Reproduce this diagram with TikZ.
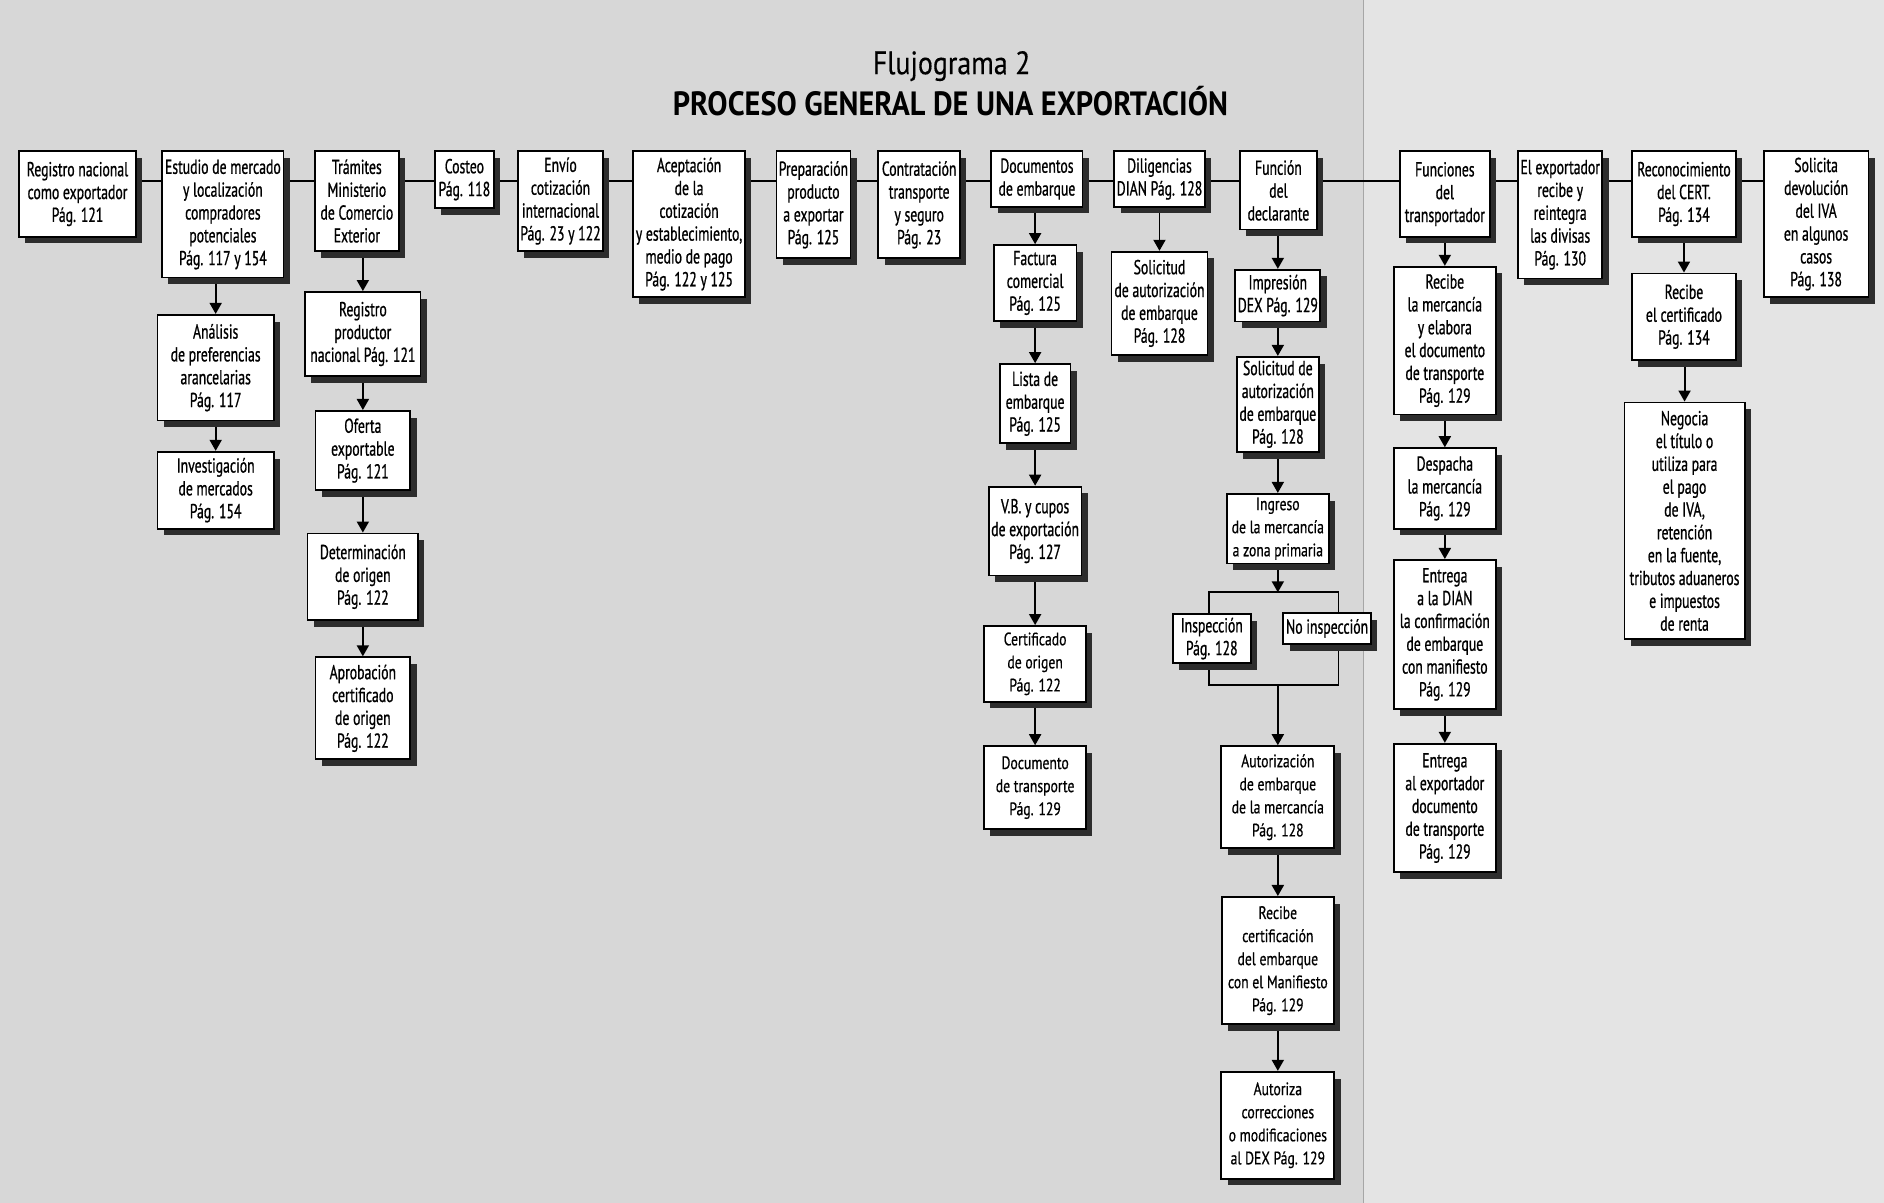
\documentclass[tikz,border=0pt]{standalone}
\usepackage{fontspec}
\setmainfont{PT Sans}[FakeStretch=0.68, FakeBold=0.8]
\newfontfamily\widefont{PT Sans}[FakeStretch=0.76, FakeBold=0.6]
\newfontfamily\titlefont{PT Sans}[FakeStretch=0.86, FakeBold=0.3]
\newfontfamily\titleboldfont{PT Sans Bold}[FakeStretch=0.9]
\usetikzlibrary{arrows.meta,shadows,calc}
\pgfdeclarelayer{paper}
\pgfdeclarelayer{lines}
\pgfsetlayers{paper,lines,main}
\definecolor{paperL}{RGB}{215,215,215}
\definecolor{paperR}{RGB}{228,228,228}
\definecolor{shade}{RGB}{45,45,45}
\tikzset{
  box/.style={draw=black, line width=0.75pt, fill=white, align=center,
    inner sep=1pt, font=\fontsize{8.4}{9.5}\selectfont,
    drop shadow={shadow xshift=2.6pt, shadow yshift=-2.8pt, fill=shade, opacity=1}},
  wbox/.style={box, font=\widefont\fontsize{7.5}{9.6}\selectfont},
  sz/.style 2 args={minimum width=#1*0.5pt, minimum height=#2*0.5pt},
  conn/.style={line width=0.8pt, draw=black},
  arr/.style={conn, -{Triangle[width=5pt,length=4.6pt]}}
}
\begin{document}
\begin{tikzpicture}[x=0.5pt, y=-0.5pt]
\useasboundingbox (0,0) rectangle (1568,1001);
\begin{pgfonlayer}{paper}
  \fill[paperL] (0,0) rectangle (1135,1001);
  \fill[paperR] (1135,0) rectangle (1568,1001);
  \draw[black!35, line width=0.6pt] (1135,0) -- (1135,1001);
\end{pgfonlayer}

% title
\node[font=\titlefont\fontsize{13.5}{15}\selectfont] (t1) at (792,55) {Flujograma 2};
\node[font=\titleboldfont\fontsize{14}{16}\selectfont] (t2) at (791,84) {PROCESO GENERAL DE UNA EXPORTACIÓN};

% main row
\coordinate (mainy) at (0,151);
\node[box, sz={97}{71}]  (b1)  at (64.5,161.5)  {Registro nacional\\como exportador\\Pág. 121};
\node[box, sz={101}{105}] (b2) at (185.5,178.5) {Estudio de mercado\\y localización\\compradores\\potenciales\\Pág. 117 y 154};
\node[box, sz={70}{83}]  (b3)  at (297,167.3) {Trámites\\Ministerio\\de Comercio\\Exterior};
\node[box, sz={49}{47}]  (b4)  at (386.5,149.5) {Costeo\\Pág. 118};
\node[box, sz={69}{83}]  (b5)  at (466.5,167.3) {Envío\\cotización\\internacional\\Pág. 23 y 122};
\node[box, sz={93}{121}] (b6)  at (573.5,186.5) {Aceptación\\de la\\cotización\\y establecimiento,\\medio de pago\\Pág. 122 y 125};
\node[box, sz={58}{89}]  (b7)  at (677,170.5)   {Preparación\\producto\\a exportar\\Pág. 125};
\node[box, sz={68}{89}]  (b8)  at (765,170.5)   {Contratación\\transporte\\y seguro\\Pág. 23};
\node[box, sz={76}{46}]  (b9)  at (863,149)   {Documentos\\de embarque};
\node[box, sz={70}{46}]  (b10) at (965,149)   {Diligencias\\DIAN Pág. 128};
\node[box, sz={64}{65}]  (b11) at (1064,158.5)  {Función\\del\\declarante};
\node[box, sz={75}{71}]  (b12) at (1202.5,161.5) {Funciones\\del\\transportador};
\node[box, sz={67}{106}] (b13) at (1298.5,178.8) {El exportador\\recibe y\\reintegra\\las divisas\\Pág. 130};
\node[box, sz={87}{71}]  (b14) at (1401.5,161.5) {Reconocimiento\\del CERT.\\Pág. 134};
\node[box, sz={87}{121}] (b15) at (1511.5,186.5) {Solicita\\devolución\\del IVA\\en algunos\\casos\\Pág. 138};

% column under b2
\node[box, sz={97}{88}] (c2a) at (179.5,306) {Análisis\\de preferencias\\arancelarias\\Pág. 117};
\node[box, sz={97}{64}] (c2b) at (179.5,408) {Investigación\\de mercados\\Pág. 154};

% column under b3
\node[box, sz={96}{70}] (c3a) at (302,278)   {Registro\\productor\\nacional Pág. 121};
\node[box, sz={79}{66}] (c3b) at (302,375)   {Oferta\\exportable\\Pág. 121};
\node[box, sz={92}{72}] (c3c) at (302,480)   {Determinación\\de origen\\Pág. 122};
\node[box, sz={79}{85}] (c3d) at (302,589.5) {Aprobación\\certificado\\de origen\\Pág. 122};

% column under b9
\node[box, sz={69}{63}]  (c9a) at (861.5,235.5) {Factura\\comercial\\Pág. 125};
\node[box, sz={59}{66}]  (c9b) at (861.5,336)   {Lista de\\embarque\\Pág. 125};
\node[box, sz={72}{74}]  (c9c) at (861.5,442)   {V.B. y cupos\\de exportación\\Pág. 127};
\node[wbox, sz={85}{63}] (c9d) at (861.5,552.5) {Certificado\\de origen\\Pág. 122};
\node[wbox, sz={85}{69}] (c9e) at (861.5,655.5) {Documento\\de transporte\\Pág. 129};

% column under b10
\node[box, sz={80}{86}] (c10a) at (965,252.5) {Solicitud\\de autorización\\de embarque\\Pág. 128};

% column under b11
\node[box, sz={67}{43}]  (c11a) at (1063.5,246) {Impresión\\DEX Pág. 129};
\node[box, sz={67}{79}]  (c11b) at (1063.5,336.5) {Solicitud de\\autorización\\de embarque\\Pág. 128};
\node[wbox, sz={85}{58}] (c11c) at (1063.5,440)   {Ingreso\\de la mercancía\\a zona primaria};
\coordinate (brTL) at (1006,493);
\coordinate (brBR) at (1114,570);
\node[box, sz={65}{41}]  (insp)   at (1008.5,531.5) {Inspección\\Pág. 128};
\node[box, sz={73}{26}]  (noinsp) at (1104.5,523)   {No inspección};
\node[wbox, sz={94}{85}]  (c11d) at (1063.5,663.5) {Autorización\\de embarque\\de la mercancía\\Pág. 128};
\node[wbox, sz={93}{106}] (c11e) at (1063.5,799.5) {Recibe\\certificación\\del embarque\\con el Manifiesto\\Pág. 129};
\node[wbox, sz={94}{89}]  (c11f) at (1063.5,936.5) {Autoriza\\correcciones\\o modificaciones\\al DEX Pág. 129};

% column under b12
\node[box, sz={85}{123}] (c12a) at (1202.5,283.5) {Recibe\\la mercancía\\y elabora\\el documento\\de transporte\\Pág. 129};
\node[box, sz={85}{67}]  (c12b) at (1202.5,406.5) {Despacha\\la mercancía\\Pág. 129};
\node[box, sz={85}{124}] (c12c) at (1202.5,528)   {Entrega\\a la DIAN\\la confirmación\\de embarque\\con manifiesto\\Pág. 129};
\node[box, sz={85}{107}] (c12d) at (1202.5,672.5) {Entrega\\al exportador\\documento\\de transporte\\Pág. 129};

% column under b14
\node[box, sz={87}{72}]  (c14a) at (1401.5,263.6) {Recibe\\el certificado\\Pág. 134};
\node[box, sz={100}{197}] (c14b) at (1402,433.5)  {Negocia\\el título o\\utiliza para\\el pago\\de IVA,\\retención\\en la fuente,\\tributos aduaneros\\e impuestos\\de renta};

\begin{pgfonlayer}{lines}
  % main horizontal line
  \foreach \a/\b in {b1/b2,b2/b3,b3/b4,b4/b5,b5/b6,b6/b7,b7/b8,b8/b9,b9/b10,b10/b11,b11/b12,b12/b13,b13/b14,b14/b15}
    \draw[conn] (\a.east |- mainy) -- (\b.west |- mainy);
  % vertical chains
  \foreach \p/\c in {b2/c2a,c2a/c2b,b3/c3a,c3a/c3b,c3b/c3c,c3c/c3d,
                     b9/c9a,c9a/c9b,c9b/c9c,c9c/c9d,c9d/c9e,b10/c10a,
                     b11/c11a,c11a/c11b,c11b/c11c,c11d/c11e,c11e/c11f,
                     b12/c12a,c12a/c12b,c12b/c12c,c12c/c12d,b14/c14a,c14a/c14b}
    \draw[arr] (\c.north |- \p.south) -- (\c.north);
  % inspection branch
  \draw[conn] (brTL) rectangle (brBR);
  \draw[arr] (c11c.south) -- (c11c.south |- brTL);
  \draw[arr] (c11d.north |- brBR) -- (c11d.north);
\end{pgfonlayer}
\end{tikzpicture}
\end{document}
